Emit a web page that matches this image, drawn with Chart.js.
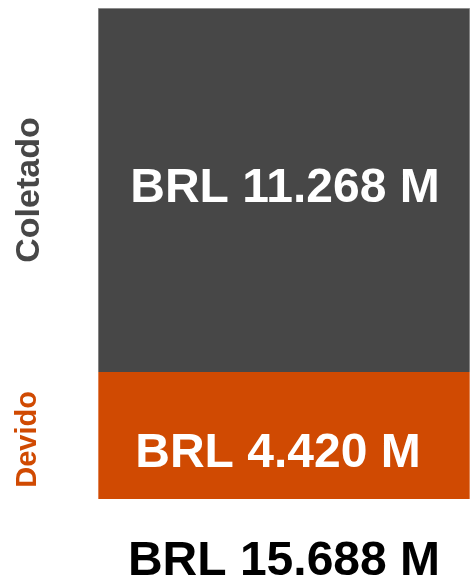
<!DOCTYPE html>
<html>
<head>
<meta charset="utf-8">
<script src="https://cdn.jsdelivr.net/npm/chart.js"></script>
<style>
  html, body { margin: 0; padding: 0; background: #fff; }
  #wrap { width: 470px; height: 580px; }
</style>
</head>
<body>
<div id="wrap"><canvas id="c" width="470" height="580"></canvas></div>
<script>
const categories = ['Total'];
const seriesNames = ['Devido', 'Coletado'];
const devido = [4.420];
const coletado = [11.268];
const seriesColors = ['#d04a02', '#474747'];
const borderColors = ['#e9a37e', '#a3a3a3'];

const fmt = v => 'BRL ' + v.toFixed(3) + ' M';
const total = devido[0] + coletado[0];

const labelPlugin = {
  id: 'labels',
  afterDatasetsDraw(chart) {
    const ctx = chart.ctx;
    const area = chart.chartArea;
    ctx.save();
    ctx.textBaseline = 'middle';
    ctx.textAlign = 'center';
    chart.data.datasets.forEach((ds, i) => {
      const bar = chart.getDatasetMeta(i).data[0];
      const midY = (bar.y + bar.base) / 2;
      // value inside the segment
      ctx.fillStyle = '#ffffff';
      ctx.font = 'bold 48px "Liberation Sans", Arial, sans-serif';
      ctx.fillText(fmt(ds.data[0]), bar.x + (i === 0 ? -6 : 1), midY + (i === 0 ? 10 : -1));
      // rotated series name on the left
      ctx.save();
      ctx.translate(i === 0 ? 28 : 30, midY + (i === 0 ? -4 : 0));
      ctx.rotate(-Math.PI / 2);
      ctx.fillStyle = ds.backgroundColor;
      ctx.font = 'bold ' + (i === 0 ? 29 : 34) + 'px "Liberation Sans", Arial, sans-serif';
      ctx.fillText(ds.label, 0, 0);
      ctx.restore();
    });
    // total below the bar
    ctx.fillStyle = '#000000';
    ctx.font = 'bold 48px "Liberation Sans", Arial, sans-serif';
    ctx.fillText(fmt(total), (area.left + area.right) / 2, 562);
    ctx.restore();
  }
};

new Chart(document.getElementById('c'), {
  type: 'bar',
  data: {
    labels: categories,
    datasets: [
      { label: seriesNames[0], data: devido, backgroundColor: seriesColors[0],
        borderColor: borderColors[0], borderWidth: 1, borderSkipped: 'top' },
      { label: seriesNames[1], data: coletado, backgroundColor: seriesColors[1],
        borderColor: borderColors[1], borderWidth: 1, borderSkipped: 'bottom' }
    ]
  },
  options: {
    responsive: false,
    animation: false,
    barPercentage: 1,
    categoryPercentage: 1,
    layout: { padding: { left: 98, top: 8, right: 0, bottom: 81 } },
    plugins: { legend: { display: false }, tooltip: { enabled: false } },
    scales: {
      x: { stacked: true, display: false },
      y: { stacked: true, display: false, min: 0.49, max: 15.688 }
    }
  },
  plugins: [labelPlugin]
});
</script>
</body>
</html>
